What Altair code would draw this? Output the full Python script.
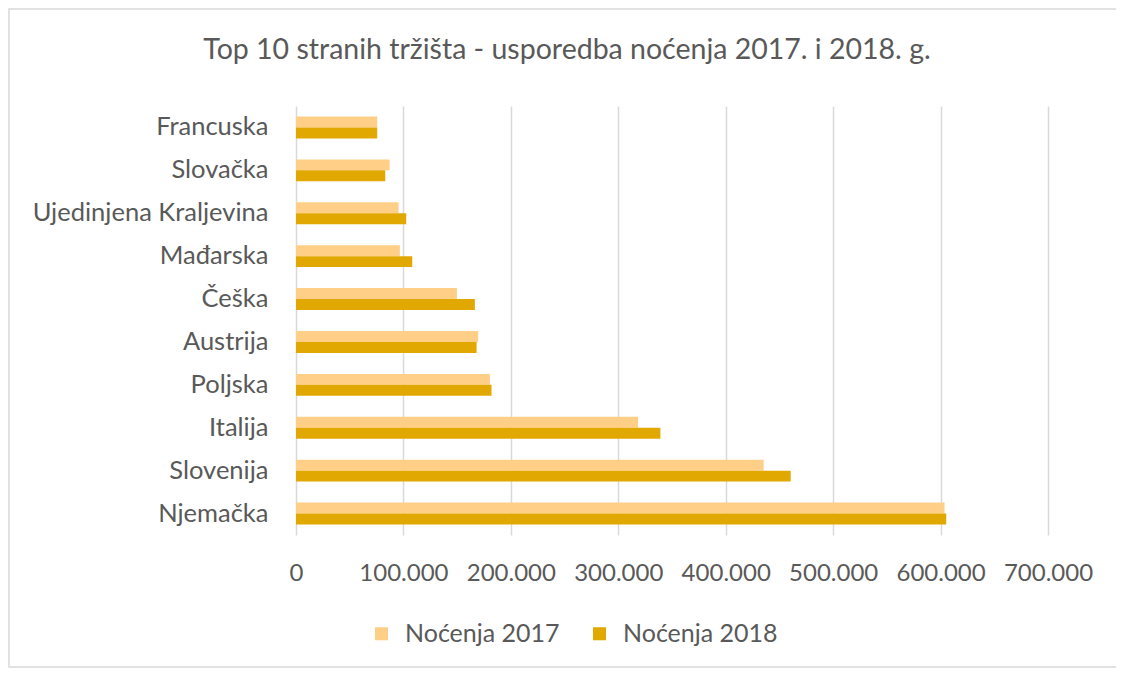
import altair as alt
import pandas as pd

countries = ["Francuska", "Slovačka", "Ujedinjena Kraljevina", "Mađarska", "Češka",
             "Austrija", "Poljska", "Italija", "Slovenija", "Njemačka"]
nocenja_2017 = [75600, 87100, 95500, 96700, 149800, 169600, 180500, 318400, 435300, 603700]
nocenja_2018 = [75600, 83100, 102600, 108200, 166500, 168100, 182000, 339200, 460500, 605300]
series = ["Noćenja 2017", "Noćenja 2018"]
colors = ["#FFCF87", "#E2A802"]
x_ticks = [0, 100000, 200000, 300000, 400000, 500000, 600000, 700000]
title_text = ["Top 10 stranih tržišta - usporedba noćenja 2017. i 2018. g."]

rows = []
for c, a, b in zip(countries, nocenja_2017, nocenja_2018):
    rows.append({"Zemlja": c, "Serija": series[0], "Vrijednost": a})
    rows.append({"Zemlja": c, "Serija": series[1], "Vrijednost": b})
df = pd.DataFrame(rows)

FONT = "Lato"
GREY = "#595959"

bars = alt.Chart(df).mark_bar().encode(
    x=alt.X("Vrijednost:Q",
            scale=alt.Scale(domain=[0, 700000], nice=False),
            axis=alt.Axis(values=x_ticks, title=None, domain=False, ticks=False,
                          labelExpr="replace(format(datum.value, ','), regexp(',', 'g'), '.')",
                          labelOverlap=False, labelFlush=False,
                          labelFontSize=24, labelColor=GREY, labelFont=FONT,
                          labelPadding=26, gridColor="#D9D9D9", gridWidth=1.5)),
    y=alt.Y("Zemlja:N", sort=countries,
            scale=alt.Scale(paddingInner=0.49, paddingOuter=0.245),
            axis=alt.Axis(title=None, domain=False, ticks=False, grid=False,
                          labelFontSize=25.5, labelColor=GREY, labelFont=FONT,
                          labelLimit=400, labelPadding=28)),
    yOffset=alt.YOffset("Serija:N", sort=series),
    color=alt.Color("Serija:N", sort=series,
                    scale=alt.Scale(domain=series, range=colors),
                    legend=alt.Legend(title=None, orient="none", direction="horizontal",
                                      legendX=73, legendY=515,
                                      symbolType="square", symbolSize=170,
                                      symbolStrokeWidth=0,
                                      labelFontSize=25, labelColor=GREY, labelFont=FONT,
                                      columnPadding=27, labelOffset=11)),
)

title = alt.Chart(pd.DataFrame({"t": title_text})).mark_text(
    font=FONT, fontSize=28.5, color=GREY, align="center", baseline="middle"
).encode(text="t:N", x=alt.value(271), y=alt.value(-56))

border = alt.Chart(pd.DataFrame({"k": [0]})).mark_rect(
    fill=None, stroke="#D9D9D9", strokeWidth=1.5, clip=False
).encode(
    x=alt.value(-287), x2=alt.value(822),
    y=alt.value(-97), y2=alt.value(561),
)

chart = alt.layer(border, bars, title).properties(
    width=752, height=429,
    autosize="none",
    padding={"left": 288, "top": 98, "right": 68, "bottom": 133},
).configure_view(stroke=None)

chart.save("out.html", embed_options={"renderer": "svg", "actions": False})
